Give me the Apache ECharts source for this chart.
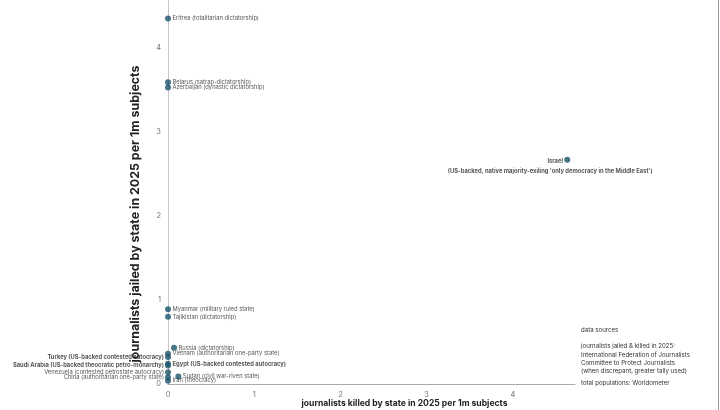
<!DOCTYPE html>
<html>
<head>
<meta charset="utf-8">
<script src="https://cdn.jsdelivr.net/npm/echarts@6/dist/echarts.min.js"></script>
<style>
html,body{margin:0;padding:0;background:#fff;}
#chart{width:720px;height:410px;}
</style>
</head>
<body>
<div id="chart"></div>
<script>
// ---- data ----
const countries = ['Eritrea','Belarus','Azerbaijan','Israel','Myanmar','Tajikistan','Russia','Vietnam','Turkey','Egypt','Saudi Arabia','Venezuela','China','Sudan','Iran'];
const descriptors = ['totalitarian dictatorship','satrap-dictatorship','dynastic dictatorship',"US-backed, native majority-exiling 'only democracy in the Middle East'",'military ruled state','dictatorship','dictatorship','authoritarian one-party state','US-backed contested autocracy','US-backed contested autocracy','US-backed theocratic petro-monarchy','contested petrostate autocracy','authoritarian one-party state','civil war-riven state','theocracy'];
const killedPerMillion = [0, 0, 0, 4.63, 0, 0, 0.07, 0, 0, 0, 0, 0, 0, 0.12, 0];
const jailedPerMillion = [4.35, 3.59, 3.53, 2.67, 0.89, 0.80, 0.43, 0.36, 0.32, 0.24, 0.22, 0.14, 0.08, 0.09, 0.04];
const xTickValues = [0, 1, 2, 3, 4];
const yTickValues = [0, 1, 2, 3, 4];
const xAxisTitle = 'journalists killed by state in 2025 per 1m subjects';
const yAxisTitle = 'journalists jailed by state in 2025 per 1m subjects';
const sourceNotes = ['data sources', '', 'journalists jailed & killed in 2025:', 'International Federation of Journalists', 'Committee to Protect Journalists', '(when discrepant, greater tally used)'];
const sourceNotes2 = ['total populations: Worldometer'];

// ---- label layout (style only) ----
const labelLayout = {
  'Eritrea': {side:'right', dy:0.5},
  'Belarus': {side:'right', dy:-1.5},
  'Azerbaijan': {side:'right', dy:3},
  'Myanmar': {side:'right', dy:-0.5},
  'Tajikistan': {side:'right', dy:0.5},
  'Russia': {side:'right', dy:2},
  'Vietnam': {side:'right', dy:2.5},
  'Turkey': {side:'left', dy:3},
  'Egypt': {side:'right', dy:2},
  'Saudi Arabia': {side:'left', dy:2.5},
  'Venezuela': {side:'left', dy:1},
  'China': {side:'left', dy:1.5},
  'Sudan': {side:'right', dy:1.5},
  'Iran': {side:'right', dy:2, dx:-5}
};

const FONT = 'Inter, "Noto Sans", sans-serif';
const DOT = '#1a5468';

const data = countries.map((c, i) => {
  const us = descriptors[i].indexOf('US-backed') === 0;
  const item = { name: c, value: [killedPerMillion[i], jailedPerMillion[i]] };
  if (c === 'Israel') {
    item.label = {
      show: true,
      position: [-14, 0],
      align: 'center',
      verticalAlign: 'top',
      formatter: '{a|' + c + '}\n{b|(' + descriptors[i] + ')}',
      fontWeight: 'bold',
      lineHeight: 10,
      rich: {
        a: { fontFamily: FONT, fontSize: 5.8, fontWeight: 'bold', color: '#2a2a2a', padding: [0, 0, 0, 10], lineHeight: 10 },
        b: { fontFamily: FONT, fontSize: 5.8, fontWeight: 'bold', color: '#2a2a2a', lineHeight: 10 }
      }
    };
  } else {
    const L = labelLayout[c] || {side:'right', dy:0};
    item.label = {
      show: true,
      position: L.side,
      distance: L.side === 'left' ? 1 : 1.5,
      offset: [L.dx || 0, L.dy],
      formatter: c + ' (' + descriptors[i] + ')',
      fontWeight: us ? 'bold' : 'normal'
    };
  }
  return item;
});

const chart = echarts.init(document.getElementById('chart'));
chart.setOption({
  backgroundColor: '#fff',
  animation: false,
  grid: { left: 168, right: 145, top: 0, bottom: 26, containLabel: false, outerBoundsMode: 'none' },
  xAxis: {
    type: 'value', min: 0, max: 4.72, interval: 1,
    name: xAxisTitle, nameLocation: 'middle', nameGap: 15, nameMoveOverlap: false,
    nameTextStyle: { fontFamily: FONT, fontWeight: 'bold', fontSize: 8.6, color: '#222', padding: [0, 0, 0, 66] },
    axisLine: { show: true, lineStyle: { color: '#aaa', width: 1 } },
    axisTick: { show: false },
    splitLine: { show: false },
    axisLabel: { fontFamily: FONT, fontSize: 7.5, color: '#777', margin: 7, showMaxLabel: false,
      formatter: v => xTickValues.indexOf(v) >= 0 ? String(v) : '' }
  },
  yAxis: {
    type: 'value', min: 0, max: 4.57, interval: 1,
    name: yAxisTitle, nameLocation: 'middle', nameGap: 27, nameMoveOverlap: false,
    nameTextStyle: { fontFamily: FONT, fontWeight: 'bold', fontSize: 12.4, color: '#222', padding: [0, 44, 0, 0] },
    axisLine: { show: true, lineStyle: { color: '#c8c8c8', width: 1 } },
    axisTick: { show: false },
    splitLine: { show: false },
    axisLabel: { fontFamily: FONT, fontSize: 7.5, color: '#777', margin: 7, showMaxLabel: false,
      formatter: v => yTickValues.indexOf(v) >= 0 ? String(v) : '' }
  },
  series: [{
    type: 'scatter',
    symbolSize: 6,
    itemStyle: { color: DOT },
    label: { fontFamily: FONT, fontSize: 5.8, color: '#2a2a2a' },
    labelLayout: { hideOverlap: false },
    data: data,
    z: 3
  }],
  graphic: [
    { type: 'line', shape: { x1: 718.5, y1: 0, x2: 718.5, y2: 410 }, style: { stroke: '#999', lineWidth: 1 } },
    { type: 'text', left: 581, top: 326, style: { text: sourceNotes.join('\n'), fontFamily: FONT, fontSize: 6.1, lineHeight: 8.2, fill: '#333' } },
    { type: 'text', left: 581, top: 379, style: { text: sourceNotes2.join('\n'), fontFamily: FONT, fontSize: 6.1, lineHeight: 8.2, fill: '#333' } }
  ]
});
</script>
</body>
</html>
